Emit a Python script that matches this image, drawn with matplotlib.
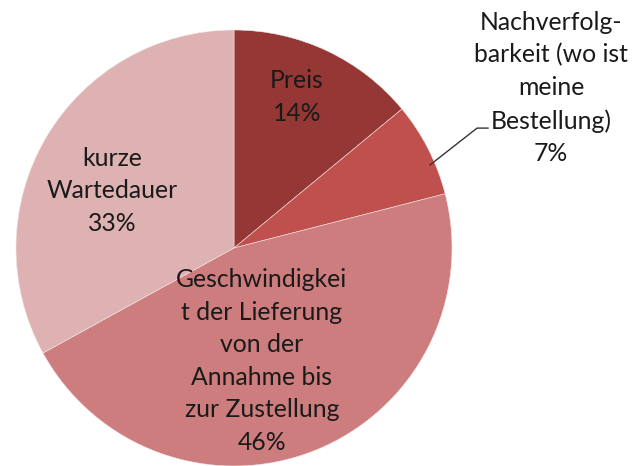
import matplotlib
matplotlib.use('Agg')
import matplotlib.pyplot as plt

labels = ['Preis', 'Nachverfolg-\nbarkeit (wo ist\nmeine\nBestellung)',
          'Geschwindigkei\nt der Lieferung\nvon der\nAnnahme bis\nzur Zustellung', 'kurze\nWartedauer']
values = [14, 7, 46, 33]
colors = ['#953735', '#C0504D', '#CD7D7D', '#DEB2B2']

plt.rcParams['font.family'] = ['Lato', 'DejaVu Sans']

fig = plt.figure(figsize=(6.34, 4.66), dpi=100)
ax = fig.add_axes([16 / 634, 0, 436 / 634, 436 / 466])
wedges, _ = ax.pie(values, colors=colors, startangle=90, counterclock=False,
                   radius=1.0, wedgeprops=dict(linewidth=0.4, edgecolor='#f4e4e4'))
ax.set_xlim(-1, 1)
ax.set_ylim(-1, 1)
ax.set_aspect('equal')
ax.axis('off')

# label positions (data coords), placed by hand like the original
pos = [(0.289, 0.693), (1.454, 0.734), (0.128, -0.518), (-0.560, 0.262)]
for lab, v, (x, y) in zip(labels, values, pos):
    ax.text(x, y, '%s\n%d%%' % (lab, v), ha='center', va='center',
            fontsize=17.8, color='#1a1a1a', linespacing=1.5, clip_on=False)

# leader line for the small slice
ax.plot([0.899, 1.115, 1.165], [0.381, 0.550, 0.550], color='#333333', lw=1, clip_on=False)

fig.savefig('out.png', dpi=100)
